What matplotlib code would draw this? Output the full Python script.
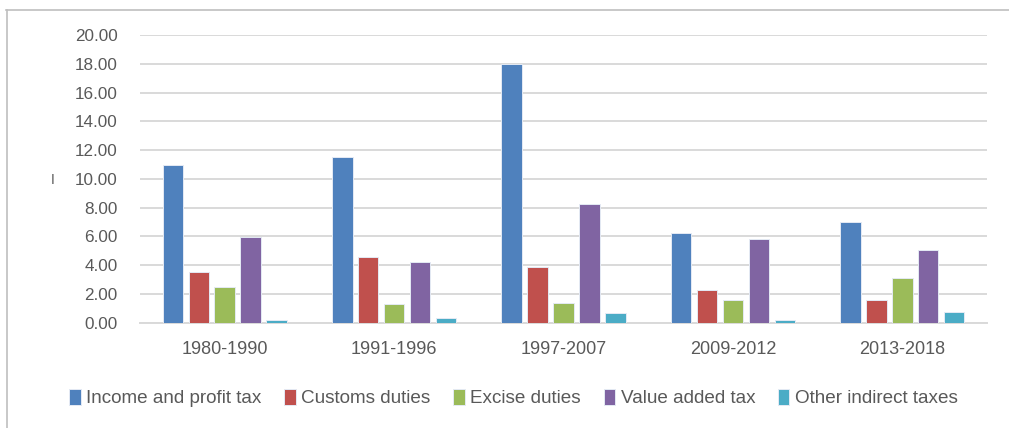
import matplotlib.pyplot as plt
from matplotlib.lines import Line2D
import numpy as np

periods = ["1980-1990", "1991-1996", "1997-2007", "2009-2012", "2013-2018"]
income_profit = [10.95, 11.55, 17.97, 6.22, 7.02]
customs = [3.55, 4.55, 3.85, 2.27, 1.58]
excise = [2.46, 1.3, 1.39, 1.58, 3.09]
vat = [5.98, 4.24, 8.28, 5.82, 5.06]
other_indirect = [0.19, 0.3, 0.7, 0.19, 0.72]

series = [
    ("Income and profit tax", income_profit, "#4F81BD"),
    ("Customs duties", customs, "#C0504D"),
    ("Excise duties", excise, "#9BBB59"),
    ("Value added tax", vat, "#8064A2"),
    ("Other indirect taxes", other_indirect, "#4BACC6"),
]

fig = plt.figure(figsize=(10.09, 4.28), dpi=100)
ax = fig.add_axes([0.1388, 0.246, 0.8394, 0.6722])

x = np.arange(len(periods))
pitch = 0.153
width = 0.121
for i, (name, vals, color) in enumerate(series):
    ax.bar(x + (i - 2) * pitch, vals, width, color=color, label=name,
           edgecolor="#e4eaf4", linewidth=0.7, zorder=3)

ax.set_xlim(-0.5, len(periods) - 0.5)
ax.set_ylim(0, 20)
yt = np.arange(0, 21, 2)
ax.set_yticks(yt)
ax.set_yticklabels([f"{v:.2f}" for v in yt], family="Liberation Sans",
                   fontsize=12.3, color="#595959")
ax.set_xticks(x)
ax.set_xticklabels(periods, family="Liberation Sans", fontsize=13, color="#595959")
ax.tick_params(axis="both", length=0)
ax.tick_params(axis="y", pad=16)
ax.tick_params(axis="x", pad=13)
ax.grid(axis="y", color="#d9d9d9", linewidth=1.4, zorder=0)
for s in ["top", "right", "left"]:
    ax.spines[s].set_visible(False)
ax.spines["bottom"].set_color("#d9d9d9")
ax.spines["bottom"].set_linewidth(1.4)

fig.text(0.052, 0.58, "I", family="Liberation Sans", fontsize=10,
         color="#595959", ha="center", va="center")

fig.legend(loc="center", bbox_to_anchor=(0.509, 0.07), ncol=5, frameon=False,
           prop={"family": "Liberation Sans", "size": 13.6},
           handlelength=0.6, handleheight=0.9, handletextpad=0.3,
           columnspacing=1.2, labelcolor="#595959")

# outer chart border (top and left)
fig.add_artist(Line2D([0.006, 1.0], [0.977, 0.977], transform=fig.transFigure,
                      color="#bfbfbf", linewidth=1.2))
fig.add_artist(Line2D([0.0065, 0.0065], [0.0, 0.977], transform=fig.transFigure,
                      color="#bfbfbf", linewidth=1.2))

plt.savefig("out.png", dpi=100)
